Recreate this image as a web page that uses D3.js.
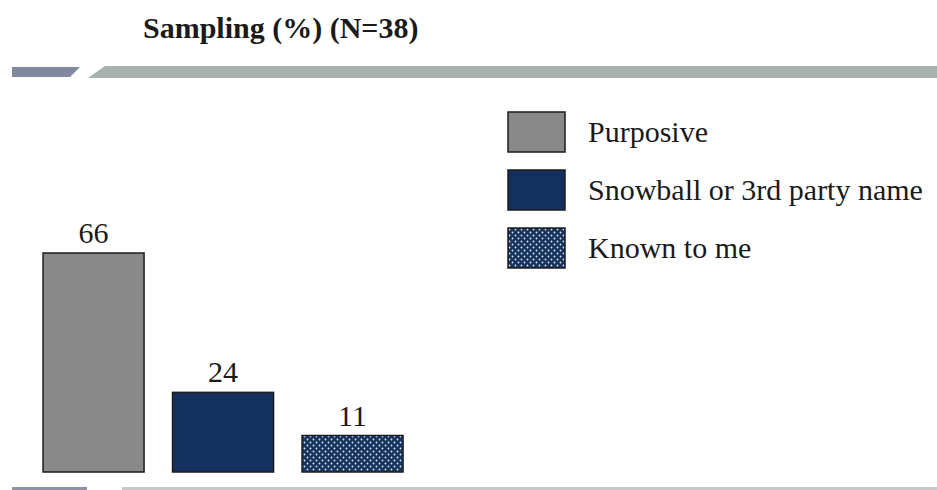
<!DOCTYPE html>
<html>
<head>
<meta charset="utf-8">
<script src="https://cdn.jsdelivr.net/npm/d3@7"></script>
<style>
  body { margin: 0; background: #fff; }
  text { font-family: "Liberation Serif", "Times New Roman", serif; }
</style>
</head>
<body>
<div id="chart"></div>
<script>
// data
categories = ["Purposive", "Snowball or 3rd party name", "Known to me"]
values = [66, 24, 11]
fills = ["#898989", "#14305f", "url(#dots)"]

width = 937
height = 490

svg = d3.select("#chart")
  .append("svg")
  .attr("width", width)
  .attr("height", height)

// dotted pattern for the last series
defs = svg.append("defs")
pat = defs.append("pattern")
  .attr("id", "dots")
  .attr("width", 6)
  .attr("height", 6)
  .attr("patternUnits", "userSpaceOnUse")
pat.append("rect").attr("width", 6).attr("height", 6).attr("fill", "#17345f")
pat.append("circle").attr("cx", 1.5).attr("cy", 1.5).attr("r", 0.9).attr("fill", "#dfe6ee")
pat.append("circle").attr("cx", 4.5).attr("cy", 4.5).attr("r", 0.9).attr("fill", "#dfe6ee")

// title
svg.append("text")
  .attr("x", 143)
  .attr("y", 38)
  .style("font-size", "30px")
  .style("font-weight", "bold")
  .style("fill", "#1a1a1a")
  .text("Sampling (%) (N=38)")

// header band
svg.append("path")
  .attr("d", "M12,67 L80,67 L70,77 L12,77 Z")
  .attr("fill", "#7f8aa0")
svg.append("path")
  .attr("d", "M105,66 L937,66 L937,78 L88,78 Z")
  .attr("fill", "#a7b1ae")

// footer band
svg.append("rect").attr("x", 12).attr("y", 487).attr("width", 75).attr("height", 3).attr("fill", "#8b93a6")
svg.append("rect").attr("x", 122).attr("y", 487).attr("width", 815).attr("height", 3).attr("fill", "#c3cacb")

// scales
x = d3.scaleBand()
  .domain(categories)
  .range([28.8, 417.3])
  .paddingInner(0.22)
  .paddingOuter(0.11)

y = d3.scaleLinear()
  .domain([0, 66])
  .range([472, 253])

data = categories.map((c, i) => ({cat: c, val: values[i], fill: fills[i]}))

svg.selectAll(".bar")
  .data(data)
  .join("rect")
    .attr("class", "bar")
    .attr("x", d => x(d.cat))
    .attr("y", d => y(d.val))
    .attr("width", x.bandwidth())
    .attr("height", d => y(0) - y(d.val))
    .attr("fill", d => d.fill)
    .attr("stroke", "#1c1c1c")
    .attr("stroke-width", 1.5)

svg.selectAll(".lbl")
  .data(data)
  .join("text")
    .attr("class", "lbl")
    .attr("x", d => x(d.cat) + x.bandwidth() / 2)
    .attr("y", d => y(d.val) - 10)
    .attr("text-anchor", "middle")
    .style("font-size", "30px")
    .style("fill", "#1a1a1a")
    .text(d => d.val)

// legend
legend = svg.selectAll(".leg")
  .data(data)
  .join("g")
    .attr("class", "leg")
    .attr("transform", (d, i) => `translate(508, ${112 + i * 58})`)
legend.append("rect")
  .attr("width", 57)
  .attr("height", 40)
  .attr("fill", d => d.fill)
  .attr("stroke", "#1c1c1c")
  .attr("stroke-width", 1.5)
legend.append("text")
  .attr("x", 80)
  .attr("y", 30)
  .style("font-size", "30px")
  .style("fill", "#1a1a1a")
  .text(d => d.cat)
</script>
</body>
</html>
